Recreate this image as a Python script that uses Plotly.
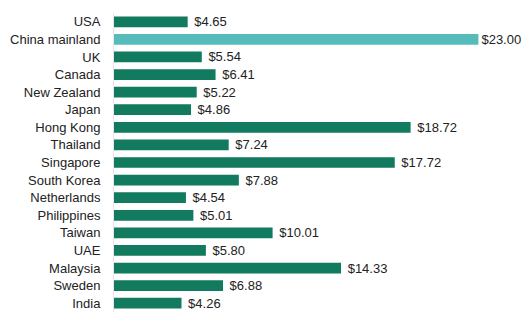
import plotly.graph_objects as go

countries = ["USA", "China mainland", "UK", "Canada", "New Zealand", "Japan", "Hong Kong",
             "Thailand", "Singapore", "South Korea", "Netherlands", "Philippines", "Taiwan",
             "UAE", "Malaysia", "Sweden", "India"]
prices = [4.65, 23.00, 5.54, 6.41, 5.22, 4.86, 18.72, 7.24, 17.72, 7.88, 4.54, 5.01,
          10.01, 5.80, 14.33, 6.88, 4.26]
highlight = "China mainland"
labels = [("$%.2f" if c == highlight else " $%.2f") % v for c, v in zip(countries, prices)]
colors = ["#56bbbb" if c == highlight else "#127a5e" for c in countries]

fig = go.Figure(go.Bar(
    x=prices, y=countries, orientation="h",
    marker=dict(color=colors, line=dict(width=0)),
    text=labels, textposition="outside", cliponaxis=False, constraintext="none",
    textfont=dict(family="Liberation Sans, Arial", size=13, color="#222222"),
    hoverinfo="skip",
))
fig.update_layout(
    width=530, height=330,
    margin=dict(l=110, r=10, t=13, b=18),
    plot_bgcolor="white", paper_bgcolor="white",
    bargap=0.39, showlegend=False,
    font=dict(family="Liberation Sans, Arial", size=13, color="#222222"),
    xaxis=dict(range=[0, 23 * 410 / 368], visible=False, showgrid=False, zeroline=False),
    yaxis=dict(autorange="reversed", showgrid=False, zeroline=False,
               showline=True, linecolor="#e6e6e6", linewidth=1,
               ticks="", ticklabelstandoff=10, tickfont=dict(size=13, color="#222222")),
)
fig.write_html("out.html")
